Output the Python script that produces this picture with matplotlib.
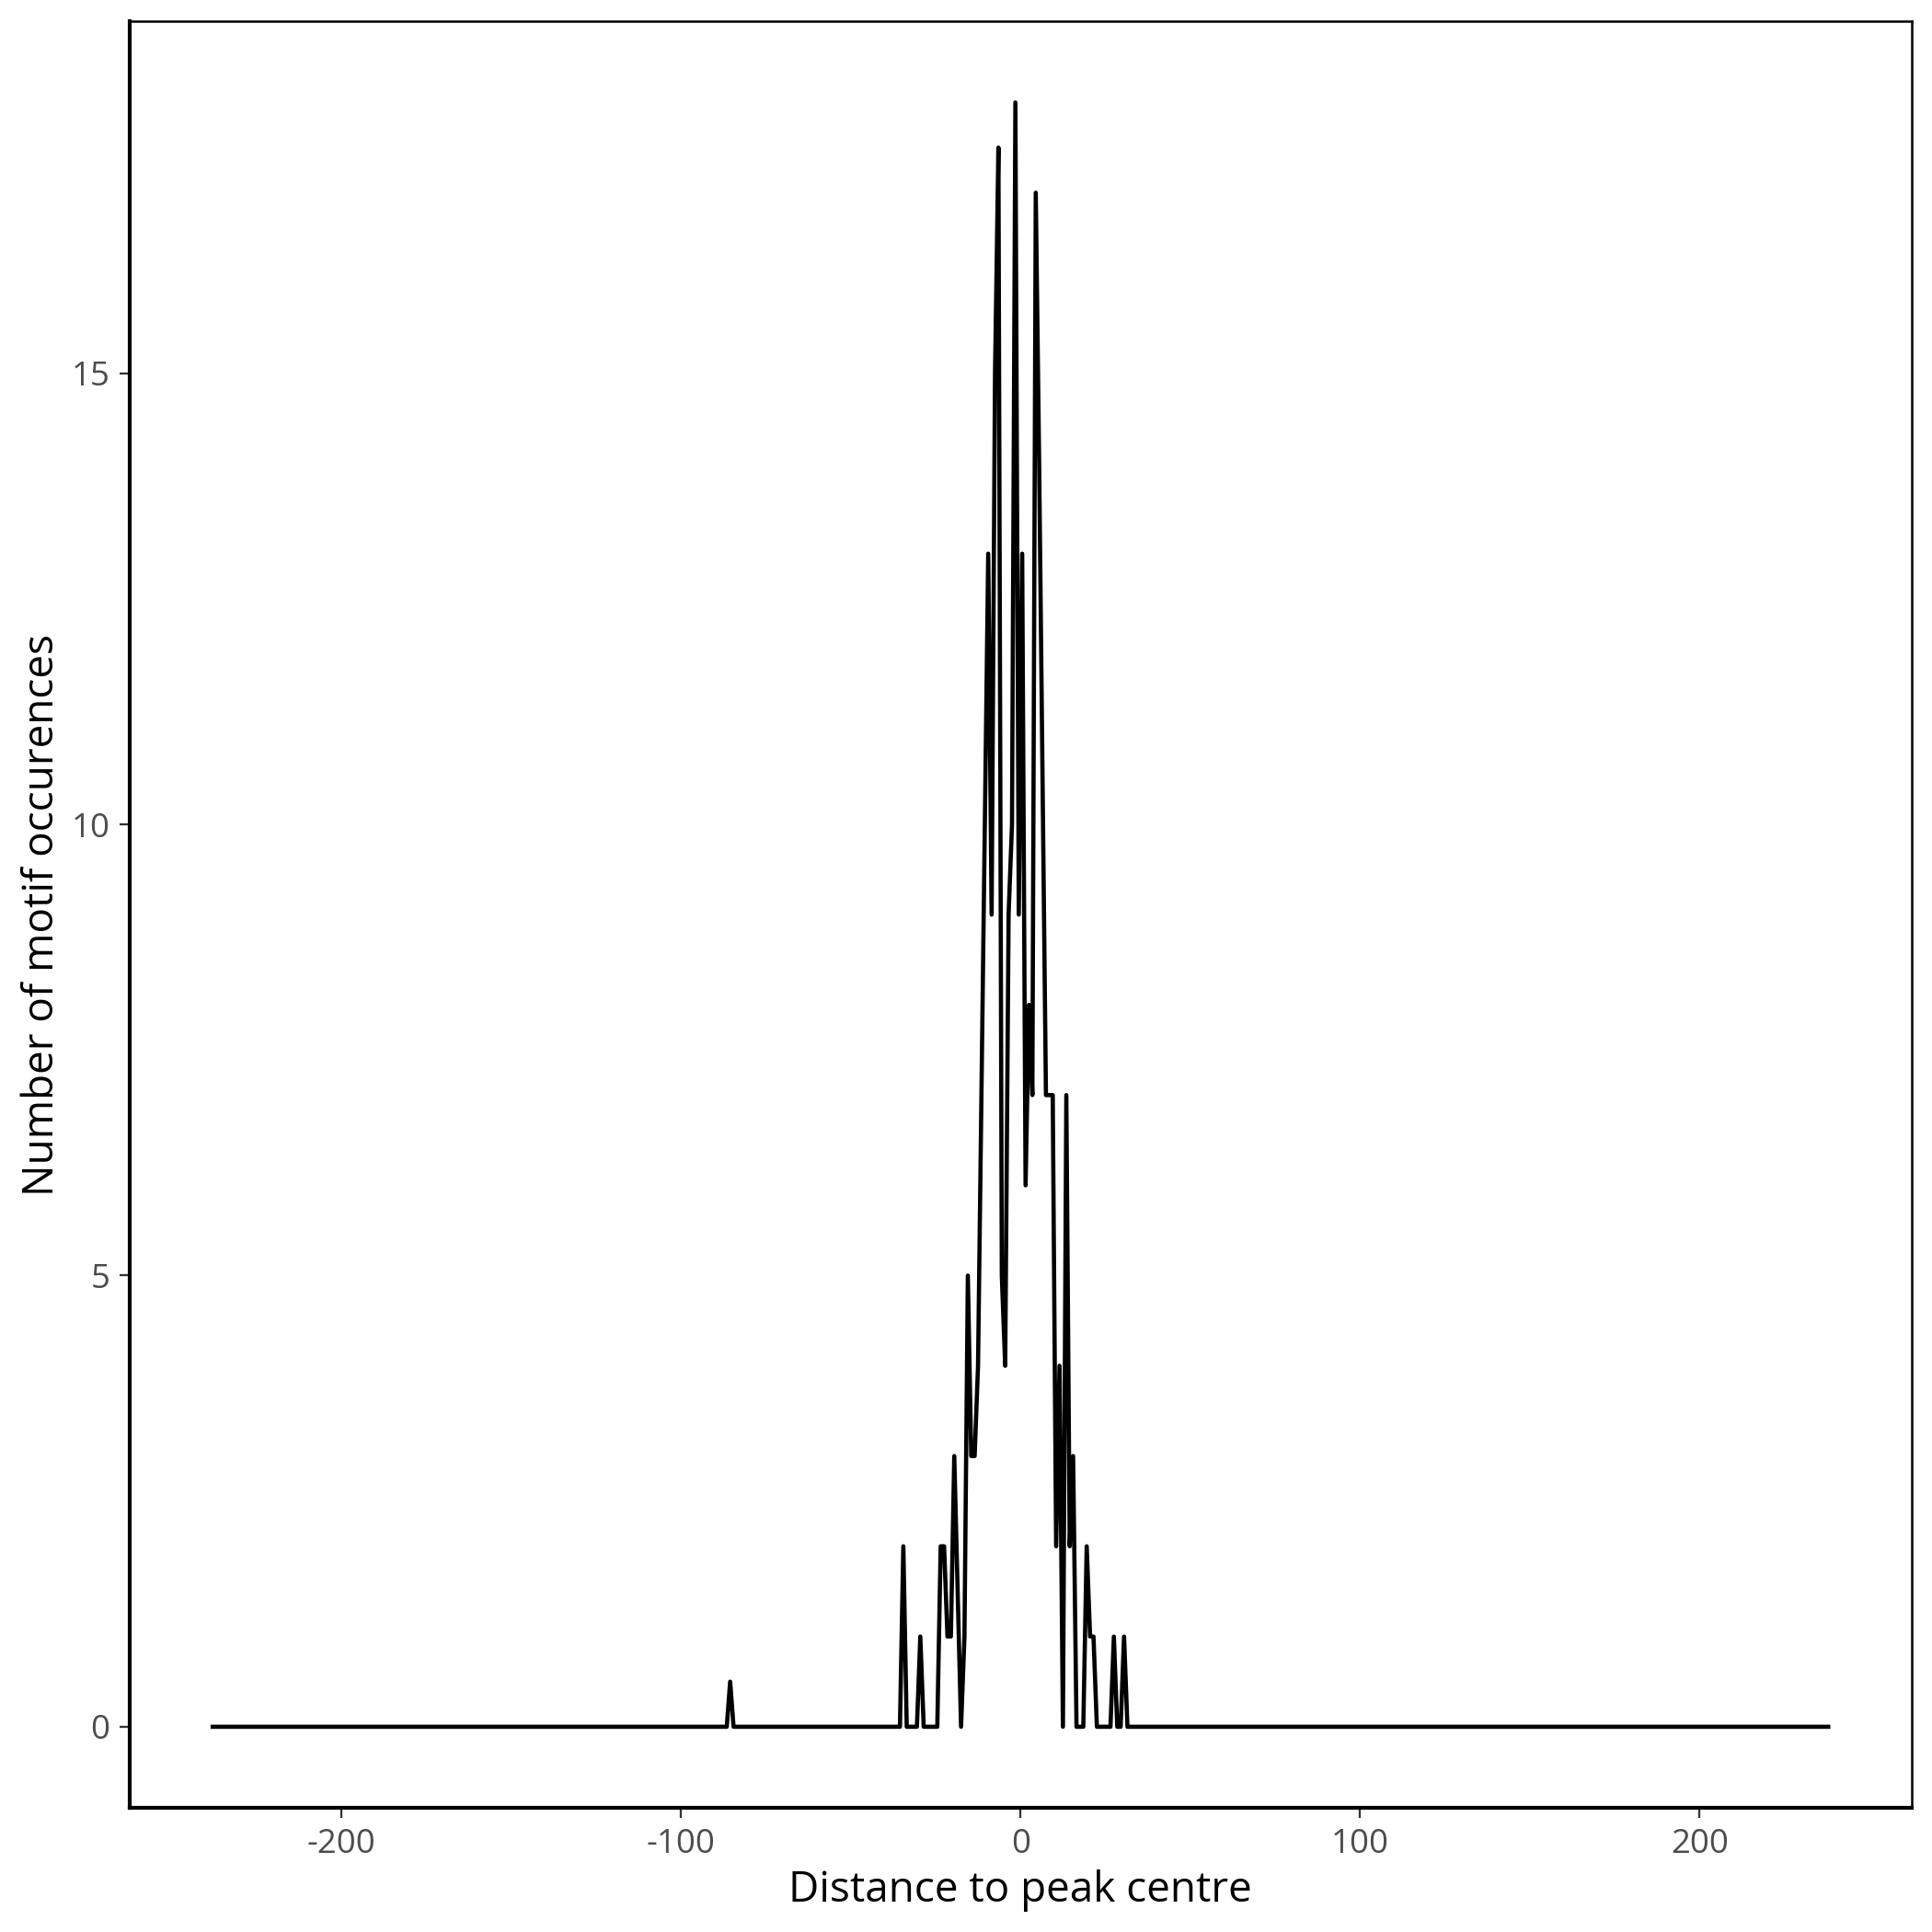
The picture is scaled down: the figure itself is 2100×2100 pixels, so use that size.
import matplotlib
matplotlib.use("Agg")
import matplotlib.pyplot as plt

plt.rcParams['font.family'] = ['Open Sans', 'DejaVu Sans']

# Vertices of the profile (distance to peak centre, motif count)
distance = [-238.5, -86.5, -85.5, -84.5,
            -35.5, -34.5, -33.5, -30.5, -29.5, -28.5, -24.5,
            -23.5, -22.5, -21.5, -20.5, -19.5, -17.5, -16.5, -15.5,
            -14.5, -13.5, -12.5, -11.5, -10.5, -9.5, -8.5, -7.5, -6.5,
            -5.5, -4.5, -3.5, -2.5, -1.5, -0.5, 0.5, 1.5, 2.5, 3.5, 4.5,
            5.5, 6.5, 7.5, 8.5, 9.5, 10.5, 11.5, 12.5, 13.5, 14.5, 15.5,
            16.5, 17.5, 18.5, 19.5, 20.5, 21.5, 22.5, 26.5, 27.5, 28.5,
            29.5, 30.5, 31.5, 238.5]
occurrences = [0, 0, 0.5, 0,
               0, 2, 0, 0, 1, 0, 0,
               2, 2, 1, 1, 3, 0, 1, 5,
               3, 3, 4, 7, 10, 13, 9, 15, 17.5,
               5, 4, 9, 10, 18, 9, 13, 6, 8, 7, 17,
               14, 10.5, 7, 7, 7, 2, 4, 0, 7, 2, 3,
               0, 0, 0, 2, 1, 1, 0, 0, 1, 0,
               0, 1, 0, 0]

x_ticks = [-200, -100, 0, 100, 200]
x_tick_labels = ["-200", "-100", "0", "100", "200"]
y_ticks = [0, 5, 10, 15]
y_tick_labels = ["0", "5", "10", "15"]

fig = plt.figure(figsize=(7, 7), dpi=300)
ax = fig.add_axes([0.0671, 0.0642, 0.9893 - 0.0671, 0.989 - 0.0642])

ax.plot(distance, occurrences, color="black", linewidth=1.1,
        solid_joinstyle="round", solid_capstyle="butt")

ax.set_xlim(-262.35, 262.35)
ax.set_ylim(-0.9, 18.9)
ax.set_xticks(x_ticks)
ax.set_xticklabels(x_tick_labels)
ax.set_yticks(y_ticks)
ax.set_yticklabels(y_tick_labels)

ax.tick_params(axis="both", direction="out", length=2.7, width=0.55,
               color="#333333", labelcolor="#4D4D4D", labelsize=8.8, pad=2.5)

for side in ["left", "bottom"]:
    ax.spines[side].set_linewidth(1.0)
    ax.spines[side].set_color("black")
for side in ["top", "right"]:
    ax.spines[side].set_linewidth(0.6)
    ax.spines[side].set_color("black")

ax.set_xlabel("Distance to peak centre", fontsize=11, color="black", labelpad=2.2)
ax.set_ylabel("Number of motif occurences", fontsize=11, color="black", labelpad=2.0)

fig.savefig("out.png", dpi=300, facecolor="white")
